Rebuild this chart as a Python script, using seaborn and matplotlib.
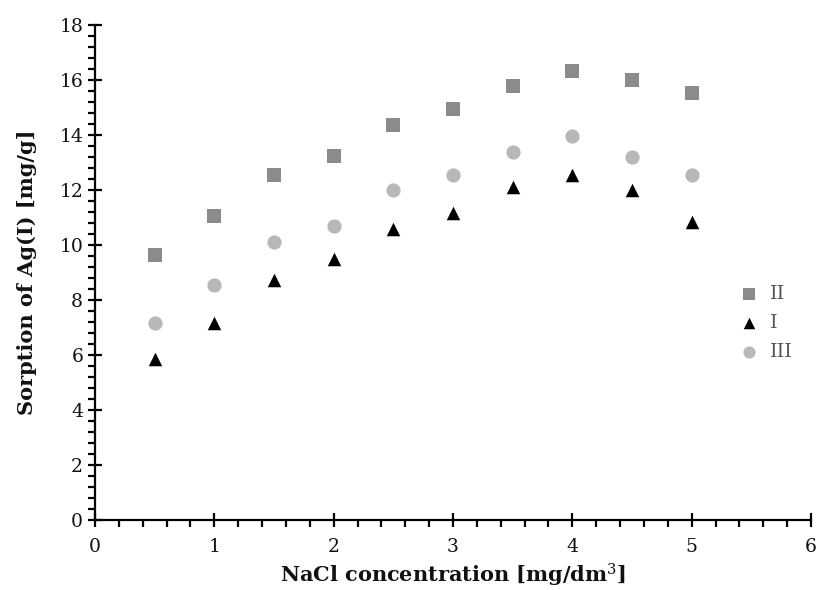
import matplotlib
matplotlib.use("Agg")
import matplotlib.pyplot as plt
import seaborn as sns
import pandas as pd
from matplotlib.ticker import MultipleLocator

nacl = [0.5, 1.0, 1.5, 2.0, 2.5, 3.0, 3.5, 4.0, 4.5, 5.0]
sorption_II = [9.64, 11.05, 12.55, 13.25, 14.38, 14.95, 15.78, 16.33, 16.0, 15.52]
sorption_I = [5.85, 7.15, 8.72, 9.48, 10.6, 11.15, 12.1, 12.55, 12.0, 10.85]
sorption_III = [7.15, 8.55, 10.12, 10.68, 12.0, 12.55, 13.38, 13.95, 13.2, 12.55]
series_names = ["II", "I", "III"]

df = pd.DataFrame({
    "x": nacl * 3,
    "y": sorption_II + sorption_I + sorption_III,
    "series": [n for n in series_names for _ in nacl],
})

sns.set_theme(style="white")
plt.rcParams['font.family'] = ['DejaVu Serif']
plt.rcParams['mathtext.fontset'] = 'dejavuserif'

fig = plt.figure(figsize=(8.16, 5.90), dpi=100)
ax = fig.add_axes([0.1164, 0.1186, 0.8775, 0.839])

palette = {"II": "#8b8b8d", "I": "#000000", "III": "#b8b8ba"}
markers = {"II": "s", "I": "^", "III": "o"}
sizes = {"II": 100, "I": 95, "III": 105}
for name in series_names:
    sub = df[df["series"] == name]
    sns.scatterplot(data=sub, x="x", y="y", ax=ax, color=palette[name],
                    marker=markers[name], s=sizes[name], linewidth=0, label=name)

ax.set_xlim(0, 6)
ax.set_ylim(0, 18)
ax.xaxis.set_major_locator(MultipleLocator(1))
ax.xaxis.set_minor_locator(MultipleLocator(0.2))
ax.yaxis.set_major_locator(MultipleLocator(2))
ax.yaxis.set_minor_locator(MultipleLocator(0.4))
for s in ["top", "right"]:
    ax.spines[s].set_visible(False)
for s in ["left", "bottom"]:
    ax.spines[s].set_color("black")
    ax.spines[s].set_linewidth(1.6)
ax.tick_params(which="major", direction="inout", length=10, width=1.6, colors="black",
               labelcolor="#111111", labelsize=13.5)
ax.tick_params(which="minor", direction="out", length=5, width=1.6, colors="black")
ax.tick_params(axis="x", which="both", bottom=True)
ax.tick_params(axis="y", which="both", left=True)
ax.tick_params(axis="x", which="major", pad=8)

ax.set_xlabel("NaCl concentration [mg/dm$^3$]", fontsize=15, fontweight="bold",
              labelpad=4, color="#111111")
ax.set_ylabel("Sorption of Ag(I) [mg/g]", fontsize=15, fontweight="bold",
              labelpad=16, color="#111111")

leg = ax.legend(loc="upper left", bbox_to_anchor=(0.875, 0.49), frameon=False,
                fontsize=14, handletextpad=0.1, labelspacing=0.55, markerscale=0.85,
                borderaxespad=0)
for t in leg.get_texts():
    t.set_color("#555555")

fig.savefig("out.png", dpi=100)
